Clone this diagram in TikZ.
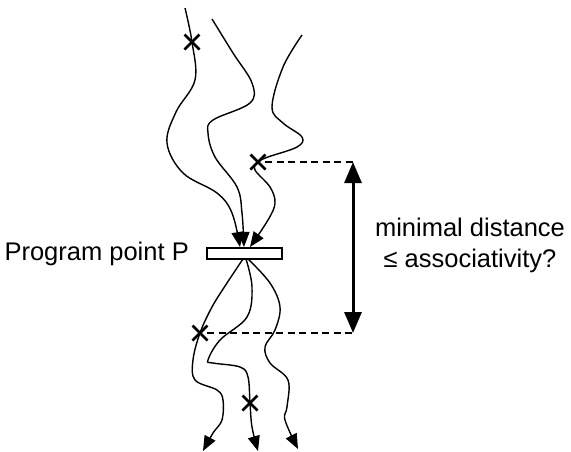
\documentclass[tikz,border=0pt]{standalone}
\usepackage{fontspec}
\setmainfont{Liberation Sans}
\usetikzlibrary{arrows.meta}
\begin{document}
\begin{tikzpicture}[x=1pt,y=-1pt,
  flow/.style={line width=1.4pt, -{Triangle[length=15pt,width=12pt]}},
  xmark/.style={line width=2.8pt},
  dline/.style={line width=1.2pt, dash pattern=on 7pt off 4.5pt},
  span/.style={line width=3pt, {Triangle[length=21pt,width=17pt]}-{Triangle[length=21pt,width=17pt]}},
  lbl/.style={font=\fontsize{25.5}{31}\selectfont, align=center, inner sep=0pt}]
\useasboundingbox (0,0) rectangle (571,451);
% program point box
\node[draw, line width=1.2pt, minimum width=75pt, minimum height=11pt, inner sep=0pt] (P) at (244.5,253.5) {};
\node[lbl, anchor=east] (Plbl) at (189,254) {Program point P};
% x-mark positions
\coordinate (x1) at (192,42);
\coordinate (x2) at (258,162);
\coordinate (x3) at (200,333);
\coordinate (x4) at (250,403);
% incoming paths
\draw[flow] plot[smooth, tension=0.6] coordinates {(185,8) (x1) (195,80) (176,112) (167,143) (183,173) (217,193) (232,213) (240,247)};
\draw[flow] plot[smooth, tension=0.6] coordinates {(212,19) (233,53) (252,83) (250,103) (213,120) (208,133) (215,157) (237,187) (242,213) (244,247)};
\draw[flow] plot[smooth, tension=0.6] coordinates {(302,35) (283,67) (272,107) (283,123) (302,137) (297,147) (268,157) (x2) (255,170) (270,187) (275,203) (268,220) (250,247)};
% outgoing paths
\draw[flow] plot[smooth, tension=0.6] coordinates {(243,259) (227,283) (212,307) (x3) (193,360) (195,380) (217,390) (223,400) (222,420) (213,433) (203,451)};
\draw[flow] plot[smooth, tension=0.6] coordinates {(246,259) (252,287) (247,317) (220,340) (208,360) (213,363) (240,367) (248,377) (x4) (252,427) (258,451)};
\draw[flow] plot[smooth, tension=0.6] coordinates {(248,259) (270,283) (280,307) (275,330) (265,347) (270,363) (288,380) (287,407) (285,420) (298,449)};
% x marks
\foreach \c in {x1,x2,x3,x4}{
  \draw[xmark] ([shift={(-7.5,-7.5)}]\c) -- ([shift={(7.5,7.5)}]\c);
  \draw[xmark] ([shift={(-7.5,7.5)}]\c) -- ([shift={(7.5,-7.5)}]\c);
}
% distance
\coordinate (t) at (353,162);
\coordinate (b) at (353,333);
\draw[dline] ([xshift=7pt]x2) -- (t);
\draw[dline] ([xshift=7pt]x3) -- (b);
\draw[span] (t) -- (b);
\node[lbl] (dist) at (470,245) {minimal distance\\≤ associativity?};
\end{tikzpicture}
\end{document}
